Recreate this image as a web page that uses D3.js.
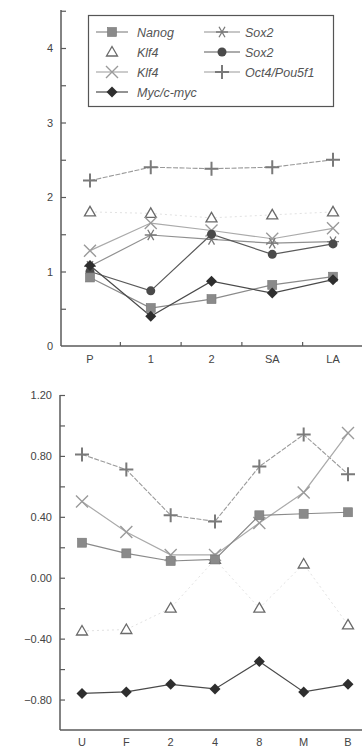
<!DOCTYPE html>
<html>
<head>
<meta charset="utf-8">
<script src="https://cdn.jsdelivr.net/npm/d3@7"></script>
<style>
  html, body { margin: 0; padding: 0; background: #fff; }
  svg { display: block; }
</style>
</head>
<body>
<div id="chart"></div>
<script>
// ---- data ----
const topCategories = ["P", "1", "2", "SA", "LA"];
const bottomCategories = ["U", "F", "2", "4", "8", "M", "B"];
const topTicks = [0, 1, 2, 3, 4];
const bottomTicks = [-0.8, -0.4, 0, 0.4, 0.8, 1.2];

const topNanog = [0.92, 0.51, 0.63, 0.82, 0.93];
const topKlf4Tri = [1.80, 1.78, 1.72, 1.76, 1.80];
const topKlf4X = [1.28, 1.65, 1.55, 1.44, 1.58];
const topMyc = [1.08, 0.40, 0.87, 0.71, 0.89];
const topSox2Star = [1.07, 1.49, 1.43, 1.38, 1.40];
const topSox2Dot = [1.00, 0.74, 1.50, 1.23, 1.37];
const topOct4 = [2.22, 2.40, 2.38, 2.40, 2.50];

const botNanog = [0.23, 0.16, 0.11, 0.12, 0.41, 0.42, 0.43];
const botKlf4Tri = [-0.35, -0.34, -0.20, 0.12, -0.20, 0.09, -0.31];
const botKlf4X = [0.50, 0.30, 0.15, 0.15, 0.36, 0.56, 0.95];
const botMyc = [-0.76, -0.75, -0.70, -0.73, -0.55, -0.75, -0.70];
const botOct4 = [0.81, 0.71, 0.41, 0.37, 0.73, 0.94, 0.68];

const legendItems = [
  { name: "Nanog", marker: "square" },
  { name: "Sox2", marker: "star" },
  { name: "Klf4", marker: "triangle" },
  { name: "Sox2", marker: "circle" },
  { name: "Klf4", marker: "x" },
  { name: "Oct4/Pou5f1", marker: "plus" },
  { name: "Myc/c-myc", marker: "diamond" }
];

// ---- styles ----
const styles = {
  square:   { line: "#8a8a8a", fill: "#8a8a8a", dash: null, width: 1.2 },
  triangle: { line: "#e2e2e2", stroke: "#6a6a6a", dash: "2,3", width: 1 },
  x:        { line: "#aaaaaa", stroke: "#9a9a9a", dash: null, width: 1.2 },
  diamond:  { line: "#4a4a4a", fill: "#2e2e2e", dash: null, width: 1.2 },
  star:     { line: "#909090", stroke: "#7a7a7a", dash: null, width: 1.2 },
  circle:   { line: "#5a5a5a", fill: "#4a4a4a", dash: null, width: 1.2 },
  plus:     { line: "#9a9a9a", stroke: "#7a7a7a", dash: "5,1.5", width: 1.1 }
};

const W = 362, H = 747;
const svg = d3.select("#chart").append("svg").attr("width", W).attr("height", H);
const axisColor = "#5a5a5a";
const textColor = "#444";
const font = "Liberation Sans, Arial, sans-serif";

function drawMarker(g, kind, x, y) {
  const s = styles[kind];
  const m = g.append("g").attr("transform", `translate(${x},${y})`);
  if (kind === "square") {
    m.append("rect").attr("x", -4.5).attr("y", -4.5).attr("width", 9).attr("height", 9)
      .attr("fill", s.fill).attr("stroke", "#777").attr("stroke-width", 0.6);
  } else if (kind === "circle") {
    m.append("circle").attr("r", 4.5).attr("fill", s.fill);
  } else if (kind === "diamond") {
    m.append("path").attr("d", "M0,-5.5L5.5,0L0,5.5L-5.5,0Z").attr("fill", s.fill);
  } else if (kind === "triangle") {
    m.append("path").attr("d", "M0,-5.5L5.5,4L-5.5,4Z")
      .attr("fill", "#fff").attr("stroke", s.stroke).attr("stroke-width", 1.3);
  } else if (kind === "x") {
    m.append("path").attr("d", "M-6,-6L6,6M-6,6L6,-6")
      .attr("stroke", s.stroke).attr("stroke-width", 1.4).attr("fill", "none");
  } else if (kind === "plus") {
    m.append("path").attr("d", "M-7,0L7,0M0,-7L0,7")
      .attr("stroke", s.stroke).attr("stroke-width", 2).attr("fill", "none");
  } else if (kind === "star") {
    m.append("path").attr("d", "M-6,0L6,0M-3,-5.2L3,5.2M-3,5.2L3,-5.2")
      .attr("stroke", s.stroke).attr("stroke-width", 1.3).attr("fill", "none");
  }
}

function drawPanel(cfg) {
  const x = d3.scalePoint().domain(cfg.categories).range(cfg.xRange);
  const y = d3.scaleLinear().domain(cfg.yDomain).range(cfg.yRange);
  const g = svg.append("g");

  // y axis, ticks pointing inward
  const yAxis = d3.axisRight(y).tickValues(cfg.minorTicks).tickSize(5).tickFormat("");
  const ya = g.append("g").attr("transform", `translate(${cfg.xAxisX},0)`).call(yAxis);
  ya.select(".domain").remove();
  ya.selectAll("line").attr("stroke", axisColor).attr("stroke-width", 1.2);
  g.append("line").attr("x1", cfg.xAxisX).attr("x2", cfg.xAxisX)
    .attr("y1", cfg.axisTop).attr("y2", y(cfg.yDomain[0]))
    .attr("stroke", axisColor).attr("stroke-width", 1.5);
  g.selectAll(".ylab").data(cfg.ticks).enter().append("text")
    .attr("x", cfg.xAxisX - 8).attr("y", d => y(d) + 4)
    .attr("text-anchor", "end").attr("font-size", 11).attr("fill", textColor)
    .attr("font-family", font)
    .text(d => cfg.fmt(d));

  // x axis
  const base = y(cfg.yDomain[0]);
  g.append("line").attr("x1", cfg.xAxisX).attr("x2", W)
    .attr("y1", base).attr("y2", base).attr("stroke", axisColor).attr("stroke-width", 1.5);
  const cats = cfg.categories;
  if (cfg.xBoundaryTicks) {
    const step = x.step();
    const bounds = cats.map(c => x(c) + step / 2);
    g.selectAll(".xb").data(bounds).enter().append("line")
      .attr("x1", d => d).attr("x2", d => d).attr("y1", base).attr("y2", base - 4)
      .attr("stroke", axisColor).attr("stroke-width", 1.2);
  }
  g.selectAll(".xlab").data(cats).enter().append("text")
    .attr("x", d => x(d)).attr("y", base + cfg.xLabelDy)
    .attr("text-anchor", "middle").attr("font-size", 11).attr("fill", textColor)
    .attr("font-family", font)
    .text(d => d);

  // series lines, then markers on top
  cfg.series.forEach(sr => {
    const s = styles[sr.marker];
    const line = d3.line().x((d, i) => x(cats[i])).y(d => y(d));
    g.append("path").datum(sr.values).attr("d", line)
      .attr("fill", "none").attr("stroke", s.line).attr("stroke-width", s.width)
      .attr("stroke-dasharray", s.dash);
  });
  cfg.series.forEach(sr => {
    sr.values.forEach((v, i) => drawMarker(g, sr.marker, x(cats[i]), y(v)));
  });
}

drawPanel({
  categories: topCategories,
  xRange: [90, 333],
  yDomain: [0, 4.5],
  yRange: [346, 10.75],
  axisTop: 10,
  xAxisX: 61,
  ticks: topTicks,
  minorTicks: d3.range(0.5, 4.51, 0.5),
  fmt: d => d3.format("d")(d),
  xBoundaryTicks: true,
  xLabelDy: 17,
  series: [
    { marker: "triangle", values: topKlf4Tri },
    { marker: "plus", values: topOct4 },
    { marker: "x", values: topKlf4X },
    { marker: "star", values: topSox2Star },
    { marker: "circle", values: topSox2Dot },
    { marker: "square", values: topNanog },
    { marker: "diamond", values: topMyc }
  ]
});

drawPanel({
  categories: bottomCategories,
  xRange: [82, 348],
  yDomain: [-1.0, 1.2],
  yRange: [730, 395],
  axisTop: 395,
  xAxisX: 60,
  ticks: bottomTicks,
  minorTicks: d3.range(-0.8, 1.21, 0.2),
  fmt: d => (d < 0 ? "\u2212" + d3.format(".2f")(-d) : d3.format(".2f")(d)),
  xBoundaryTicks: false,
  xLabelDy: 16,
  series: [
    { marker: "triangle", values: botKlf4Tri },
    { marker: "plus", values: botOct4 },
    { marker: "x", values: botKlf4X },
    { marker: "square", values: botNanog },
    { marker: "diamond", values: botMyc }
  ]
});

// ---- legend ----
const lg = svg.append("g");
lg.append("rect").attr("x", 88.5).attr("y", 15.5).attr("width", 245).attr("height", 91)
  .attr("fill", "#fff").attr("stroke", "#555").attr("stroke-width", 1.2);
const colX = [[96, 128, 112, 137], [204, 240, 222, 245]];
legendItems.forEach((it, i) => {
  const col = i % 2, row = Math.floor(i / 2);
  const cy = 32 + row * 20;
  const c = colX[col];
  const s = styles[it.marker];
  if (it.marker !== "triangle") {
    lg.append("line").attr("x1", c[0]).attr("x2", c[1]).attr("y1", cy).attr("y2", cy)
      .attr("stroke", s.line).attr("stroke-width", 1.2);
  }
  drawMarker(lg, it.marker, c[2], cy);
  lg.append("text").attr("x", c[3]).attr("y", cy + 4.5)
    .attr("font-size", 12.5).attr("font-style", "italic").attr("fill", "#555")
    .attr("font-family", font)
    .text(it.name);
});
</script>
</body>
</html>
